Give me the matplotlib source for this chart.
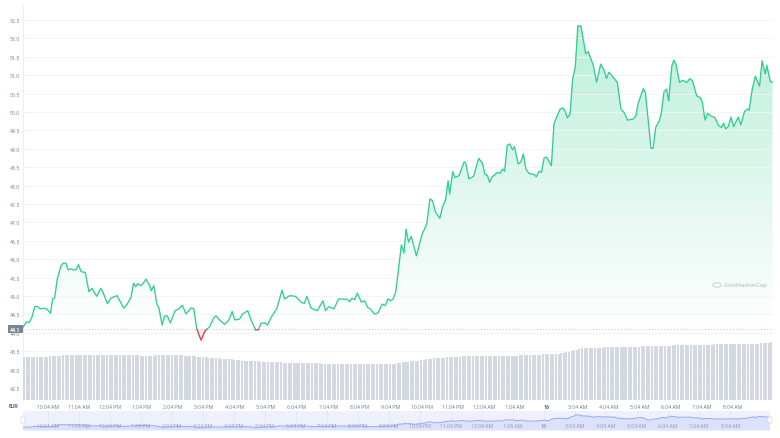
import numpy as np
import matplotlib
matplotlib.use('Agg')
import matplotlib.pyplot as plt
from matplotlib.colors import LinearSegmentedColormap
from matplotlib.transforms import blended_transform_factory
import matplotlib.patches as mpatches

plt.rcParams['font.family'] = ['Roboto', 'DejaVu Sans']

# ---- data -------------------------------------------------------------
minutes = [0,7,12,17,23,28,33,41,47,53,57,61,66,73,78,83,87,92,98,102,107,112,120,127,133,142,150,154,163,169,
           181,188,194,199,205,208,213,217,221,227,232,237,244,247,252,258,262,268,273,278,284,293,300,307,314,
           324,329,335,343,350,354,359,368,372,378,388,396,403,408,417,423,433,440,448,453,459,466,471,478,485,
           489,499,504,514,525,536,542,547,555,567,578,583,589,599,608,625,629,634,639,644,652,658,664,669,677,
           684,692,698,703,708,713,718,722,729,734,738,743,748,758,769,778,784,789,795,803,808,814,819,822,828,
           832,840,850,853,859,868,878,885,890,895,899,904,914,919,924,928,933,938,943,947,954,959,964,969,975,
           985,989,994,999,1004,1009,1018,1023,1028,1035,1040,1044,1049,1054,1059,1064,1069,1075,1084,1089,1099,
           1105,1113,1120,1124,1129,1145,1152,1158,1165,1176,1181,1185,1195,1199,1204,1210,1214,1219,1226,1230,
           1235,1240,1244,1250,1254,1258,1265,1270,1276,1279,1285,1290,1298,1305,1309,1314,1319,1327,1333,1340,
           1346,1350,1354,1359,1364,1369,1378,1383,1390,1396,1399,1405,1411,1419,1424,1430,1433,1440,1444]

prices = [44.15,44.30,44.28,44.42,44.72,44.71,44.65,44.67,44.63,44.53,44.92,44.95,45.46,45.81,45.90,45.89,45.71,
          45.74,45.71,45.71,45.85,45.66,45.64,45.12,45.21,44.99,45.21,45.10,44.79,44.94,45.01,44.83,44.67,44.74,
          44.89,44.96,45.35,45.25,45.34,45.28,45.35,45.46,45.28,45.14,45.28,44.78,44.67,44.21,44.46,44.46,44.27,
          44.60,44.65,44.75,44.51,44.68,44.65,44.10,43.80,44.03,44.10,44.15,44.42,44.46,44.36,44.23,44.33,44.58,
          44.35,44.37,44.51,44.60,44.33,44.08,44.08,44.26,44.27,44.21,44.42,44.57,44.65,45.16,44.92,45.01,44.99,
          44.83,44.80,44.99,44.67,44.60,44.87,44.60,44.71,44.65,44.92,44.91,44.84,44.94,44.90,45.08,44.83,44.87,
          44.69,44.65,44.51,44.54,44.78,44.74,44.92,44.87,44.92,45.10,45.55,46.39,46.17,46.82,46.46,46.62,46.09,
          46.68,46.96,47.64,47.59,47.27,47.11,47.41,47.61,48.13,47.77,48.38,48.22,48.27,48.65,48.61,48.18,48.25,
          48.74,48.61,48.31,48.27,48.09,48.24,48.36,48.33,48.45,48.39,49.10,49.13,48.97,49.06,48.59,48.64,48.86,
          48.45,48.33,48.30,48.24,48.39,48.36,48.75,48.77,48.54,49.67,49.86,50.08,50.11,50.04,49.84,49.95,50.90,
          51.21,52.34,52.34,51.59,51.64,51.26,50.81,51.30,51.12,50.91,51.08,50.81,50.08,49.99,49.78,49.81,49.90,
          50.22,50.63,50.55,49.86,49.01,49.01,49.58,49.76,49.99,50.55,50.62,50.30,51.25,51.41,51.30,50.80,50.86,
          50.83,50.80,50.91,50.84,50.44,50.39,50.26,49.78,49.96,49.88,49.85,49.63,49.58,49.70,49.54,49.61,49.86,
          49.60,49.86,49.65,50.01,50.08,50.05,50.62,50.97,50.70,51.39,51.03,51.27,50.82,50.81]

volume = [215,215,215,216,216,216,216,217,217,217,218,219,
          220,221,222,223,224,225,225,225,225,225,225,225,
          225,225,225,225,225,225,225,224,224,224,224,224,
          224,224,224,224,223,223,223,223,223,222,222,222,
          222,222,222,223,223,224,224,225,225,225,225,225,
          224,223,222,221,220,219,218,217,216,215,213,212,
          211,210,209,208,207,206,205,204,203,202,200,198,
          197,196,195,195,194,194,193,192,191,190,190,189,
          189,188,188,188,187,187,186,186,186,185,185,185,
          184,184,184,183,183,183,183,182,182,182,182,182,
          182,182,181,181,181,181,181,181,181,180,180,180,
          180,180,180,180,180,180,180,180,180,180,181,182,
          184,186,188,190,192,193,194,196,197,199,201,203,
          205,207,208,209,210,211,212,213,214,214,215,216,
          217,218,218,219,219,219,220,220,220,220,220,220,
          220,220,221,221,221,221,222,222,222,222,222,223,
          224,224,225,225,226,226,227,227,228,228,228,228,
          229,230,232,234,236,238,241,244,248,252,256,260,
          260,261,261,261,262,262,262,262,263,263,263,263,
          264,264,265,265,265,266,266,266,267,267,268,268,
          268,269,269,270,270,271,271,271,272,272,273,273,
          274,274,274,275,275,275,275,276,276,276,276,277,
          277,277,278,278,278,279,279,279,280,280,280,280,
          280,281,281,281,281,282,282,282,283,283,284,286,290]
volume_step = 5  # minutes per volume bar

open_price = 44.1
tick_minutes = [48, 108, 168, 228, 288, 348, 408, 468, 528, 588, 648, 708, 768, 828, 888, 948,
                1008, 1068, 1128, 1188, 1248, 1308, 1368]
tick_labels = ['10:04 AM', '11:04 AM', '12:04 PM', '1:04 PM', '2:04 PM', '3:04 PM', '4:04 PM',
               '5:04 PM', '6:04 PM', '7:04 PM', '8:04 PM', '9:04 PM', '10:04 PM', '11:04 PM',
               '12:04 AM', '1:04 AM', '16', '3:04 AM', '4:04 AM', '5:04 AM', '6:04 AM', '7:04 AM',
               '8:04 AM']
price_ticks = [42.5, 43.0, 43.5, 44.0, 44.5, 45.0, 45.5, 46.0, 46.5, 47.0, 47.5, 48.0, 48.5,
               49.0, 49.5, 50.0, 50.5, 51.0, 51.5, 52.0, 52.5]

# ---- layout -----------------------------------------------------------
W, H = 780, 439
fig = plt.figure(figsize=(W / 100, H / 100), dpi=100)
fig.patch.set_facecolor('white')


def rect(x0, y0, x1, y1):
    return [x0 / W, 1 - y1 / H, (x1 - x0) / W, (y1 - y0) / H]


GREEN = '#2fcf8c'
RED = '#ea3943'
LABEL = '#808a9d'
XMAX = 1445

t = np.array(minutes, dtype=float)
p = np.array(prices)

# main price axes
ax = fig.add_axes(rect(23, 7, 773, 401))
ax.set_facecolor('white')
ax.set_zorder(1)

# gradient fill above open price
poly_g = ax.fill_between(t, np.maximum(p, open_price), open_price, color='none', lw=0)
grad = np.linspace(0, 1, 256).reshape(-1, 1)
cmap_g = LinearSegmentedColormap.from_list(
    'g', [(22 / 255, 199 / 255, 132 / 255, 0.0), (22 / 255, 199 / 255, 132 / 255, 0.30)])
im = ax.imshow(grad, extent=[0, XMAX, open_price, 52.5], origin='lower', cmap=cmap_g,
               aspect='auto', zorder=1, interpolation='bilinear')
im.set_clip_path(poly_g.get_paths()[0], ax.transData)

# red fill below open price
ax.fill_between(t, np.minimum(p, open_price), open_price, color=RED, alpha=0.10, lw=0, zorder=1)

# line coloured by side of open price
clip_up = mpatches.Rectangle((0, open_price), XMAX, 20, transform=ax.transData, visible=False)
clip_dn = mpatches.Rectangle((0, open_price - 20), XMAX, 20, transform=ax.transData, visible=False)
ax.add_patch(clip_up)
ax.add_patch(clip_dn)
lg, = ax.plot(t, p, color=GREEN, lw=0.95, zorder=3, solid_joinstyle='round')
lg.set_clip_path(clip_up)
lr, = ax.plot(t, p, color=RED, lw=0.95, zorder=3, solid_joinstyle='round')
lr.set_clip_path(clip_dn)

ax.axhline(open_price, color='#c4c8d2', lw=0.8, ls=(0, (1, 1.8)), zorder=2)

ax.set_xlim(0, XMAX)
ax.set_ylim(42.174, 52.88)
ax.set_yticks(price_ticks, [f'{v:.1f}' for v in price_ticks])
ax.set_xticks(tick_minutes, tick_labels)
ax.tick_params(axis='y', length=0, pad=2.3, labelsize=3.8, labelcolor=LABEL)
ax.tick_params(axis='x', length=0, pad=2.6, labelsize=3.8, labelcolor=LABEL)
for lbl in ax.get_xticklabels():
    if lbl.get_text() == '16':
        lbl.set_fontweight('bold')
        lbl.set_color('#58667e')
ax.grid(axis='y', color='#f3f4f6', lw=0.7, zorder=0)
ax.grid(axis='x', visible=False)
for s in ['top', 'right', 'bottom']:
    ax.spines[s].set_visible(False)
ax.spines['left'].set_color('#eceef2')
ax.spines['left'].set_linewidth(0.8)

# price label box
trans = blended_transform_factory(fig.transFigure, ax.transData)
ax.text(15.5 / W, open_price, '44.1', transform=trans, ha='center', va='center', fontsize=3.8,
        color='white', fontweight='bold', zorder=10, clip_on=False,
        bbox=dict(boxstyle='square,pad=0.35', fc='#7c8396', ec='none'))

# volume axes
axv = fig.add_axes(rect(23, 341, 773, 401))
axv.set_zorder(2)
axv.patch.set_alpha(0)
vx = np.arange(len(volume)) * volume_step
axv.bar(vx, volume, width=volume_step * 0.78, align='edge', color='#d4d8e1', lw=0)
axv.set_xlim(0, XMAX)
axv.set_ylim(0, 300)
axv.axis('off')

# navigator
axn = fig.add_axes(rect(23, 412, 770, 431))
axn.set_facecolor('#eef0fd')
axn.fill_between(t, p, 42.34, color='#dce2fb', lw=0)
axn.plot(t, p, color='#9fb0f1', lw=0.8)
axn.set_xlim(0, XMAX)
axn.set_ylim(42.34, 54.96)
for s in axn.spines.values():
    s.set_visible(False)
axn.set_xticks(tick_minutes)
axn.set_yticks([])
axn.tick_params(axis='x', length=0, labelbottom=False)
axn.grid(axis='x', color='#dfe3f8', lw=0.5)
ntrans = blended_transform_factory(axn.transData, axn.transAxes)
for m, lab in zip(tick_minutes, tick_labels):
    axn.text(m, 0.22, lab, transform=ntrans, ha='center', va='center', fontsize=3.8,
             color='#9aa1b8', fontweight='bold' if lab == '16' else 'normal')

# navigator handles
for hx in (23, 770):
    fig.patches.append(mpatches.FancyBboxPatch(((hx - 2) / W, 1 - 424 / H), 4 / W, 6 / H,
                                               boxstyle='round,pad=0', transform=fig.transFigure,
                                               fc='white', ec='#c9cede', lw=0.4, zorder=5))

# EUR label
fig.text(14 / W, 1 - 407 / H, 'EUR', ha='center', va='center', fontsize=3.8, color='#58667e',
         fontweight='bold')

# watermark
fig.patches.append(mpatches.Circle((717 / W, 1 - 286 / H), 4 / W, transform=fig.transFigure,
                                   fc='none', ec='#cdd1da', lw=0.8, zorder=5))
fig.text(724 / W, 1 - 286 / H, 'CoinMarketCap', ha='left', va='center', fontsize=4.5,
         color='#cbcfd8', fontweight='bold', zorder=5)

fig.savefig('out.png', dpi=100)
